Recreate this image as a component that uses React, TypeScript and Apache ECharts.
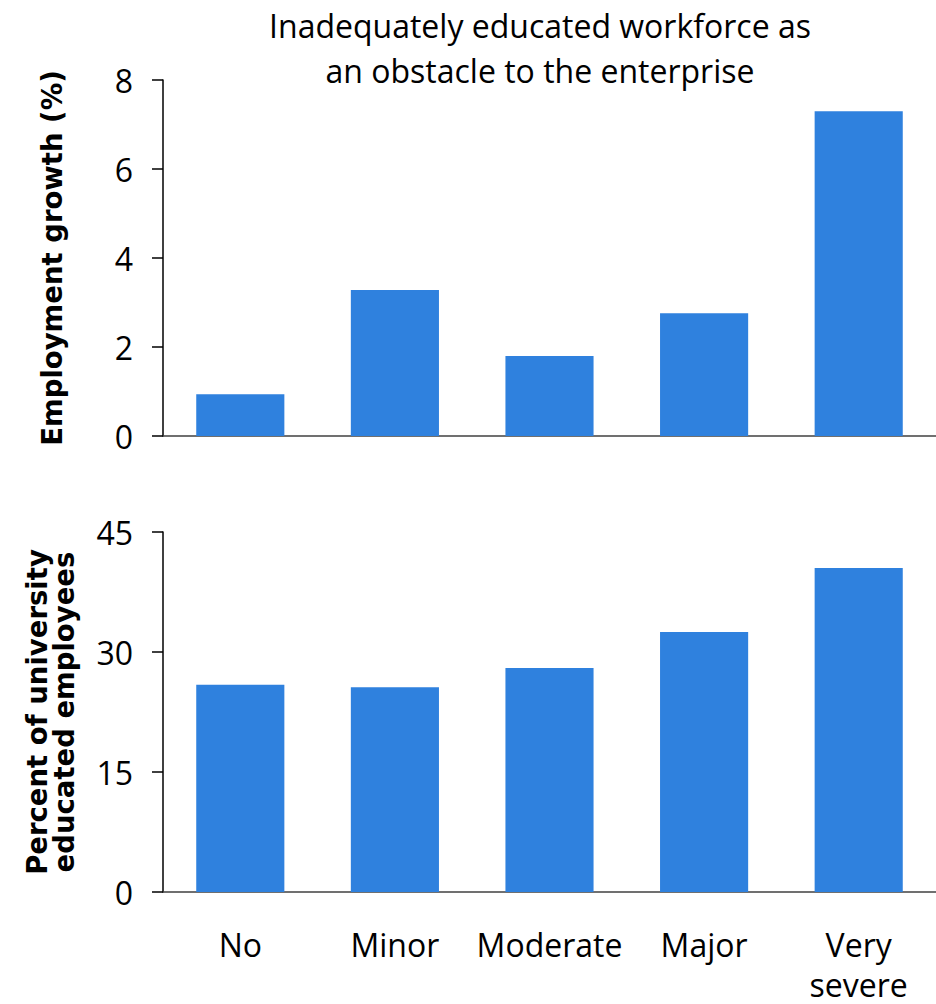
import React, { useEffect, useRef } from "react";
import * as echarts from "echarts";

// Obstacle severity categories shared by both panels
const categories = ["No", "Minor", "Moderate", "Major", "Very\nsevere"];
// Employment growth (%) by severity
const employmentGrowth = [0.94, 3.28, 1.8, 2.76, 7.3];
// Percent of university educated employees by severity
const universityEducated = [25.9, 25.6, 28.0, 32.5, 40.5];

const titleLines = ["Inadequately educated workforce as", "an obstacle to the enterprise"];

const BAR_COLOR = "#2F81DE";
const TICK_FONT = "'Open Sans', 'Noto Sans', sans-serif";
const NAME_FONT = "'DejaVu Sans', Verdana, sans-serif";

export default function App() {
  const ref = useRef<HTMLDivElement>(null);

  useEffect(() => {
    if (!ref.current) return;
    const chart = echarts.init(ref.current, null, { renderer: "svg" });

    const yAxisCommon = {
      type: "value" as const,
      splitLine: { show: false },
      axisLine: { show: true, lineStyle: { color: "#000", width: 1.5 } },
      axisTick: { show: true, length: 11, lineStyle: { color: "#000", width: 1.5 } },
      axisLabel: { color: "#000", fontSize: 32, fontFamily: TICK_FONT, margin: 30 },
      nameLocation: "middle" as const,
      nameRotate: 90,
      nameTextStyle: {
        color: "#000",
        fontSize: 27.5,
        fontWeight: "bold" as const,
        fontFamily: NAME_FONT,
        lineHeight: 27,
      },
    };

    const xAxisCommon = {
      type: "category" as const,
      data: categories,
      axisLine: { show: true, lineStyle: { color: "#404040", width: 1.5 } },
      axisTick: { show: false },
      splitLine: { show: false },
    };

    chart.setOption({
      animation: false,
      backgroundColor: "#fff",
      graphic: titleLines.map((t, i) => ({
        type: "text",
        x: 540,
        y: 25 + i * 45,
        style: {
          text: t,
          fill: "#000",
          fontSize: 32,
          fontFamily: TICK_FONT,
          textAlign: "center",
          textVerticalAlign: "middle",
        },
      })),
      grid: [
        { left: 163, width: 776, top: 80, height: 356 },
        { left: 163, width: 776, top: 532, height: 363 },
      ],
      xAxis: [
        { ...xAxisCommon, gridIndex: 0, axisLabel: { show: false } },
        {
          ...xAxisCommon,
          gridIndex: 1,
          axisLabel: {
            show: true,
            color: "#000",
            fontSize: 32,
            fontFamily: TICK_FONT,
            margin: 32,
            lineHeight: 40,
            interval: 0,
          },
        },
      ],
      yAxis: [
        {
          ...yAxisCommon,
          gridIndex: 0,
          min: 0,
          max: 8,
          interval: 2,
          name: "Employment growth (%)",
          nameGap: 98,
        },
        {
          ...yAxisCommon,
          gridIndex: 1,
          min: 0,
          max: 45,
          interval: 15,
          name: "Percent of university\neducated employees",
          nameGap: 86,
        },
      ],
      series: [
        {
          type: "bar",
          xAxisIndex: 0,
          yAxisIndex: 0,
          data: employmentGrowth,
          barWidth: "57%",
          itemStyle: { color: BAR_COLOR },
        },
        {
          type: "bar",
          xAxisIndex: 1,
          yAxisIndex: 1,
          data: universityEducated,
          barWidth: "57%",
          itemStyle: { color: BAR_COLOR },
        },
      ],
    });

    return () => chart.dispose();
  }, []);

  return (
    <div
      ref={ref}
      style={{ position: "fixed", left: 0, top: 0, width: 936, height: 1004, background: "#fff" }}
    />
  );
}
